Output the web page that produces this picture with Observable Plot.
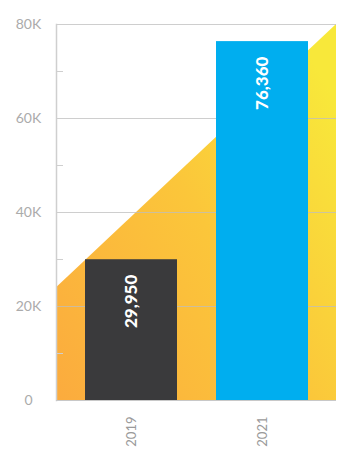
<!DOCTYPE html>
<html><head><meta charset="utf-8">
<script src="https://cdn.jsdelivr.net/npm/d3@7"></script>
<script src="https://cdn.jsdelivr.net/npm/@observablehq/plot@0.6"></script>
<style>body{margin:0;background:#fff;font-family:Lato,"Open Sans",sans-serif}</style>
</head><body><div id="chart"></div>
<script>
const years = ["2019", "2021"];
const values = [29950, 76360];
const barColors = ["#3a3a3c", "#00aeef"];
const yTicks = [0, 20000, 40000, 60000, 80000];
const yMinorTicks = [10000, 30000, 50000, 70000];
const wedgeValues = [24000, 80000]; // decorative rising wedge: left edge, right edge
const wedgeColors = ["#fbab3e", "#fbc63a", "#f8e83a"];

const data = years.map((year, i) => ({year, value: values[i]}));

function wedge(index, scales, channels, dimensions) {
  const {width, marginLeft, marginRight} = dimensions;
  const x0 = marginLeft, x1 = width - marginRight;
  const y = scales.y;
  const ns = "http://www.w3.org/2000/svg";
  const g = document.createElementNS(ns, "g");
  const pts = [[x0, y(0)], [x0, y(wedgeValues[0])], [x1, y(wedgeValues[1])], [x1, y(0)]];
  g.innerHTML = `<defs><linearGradient id="wedgeGrad" x1="0" y1="1" x2="1" y2="0.2">
    <stop offset="0" stop-color="${wedgeColors[0]}"/>
    <stop offset="0.55" stop-color="${wedgeColors[1]}"/>
    <stop offset="1" stop-color="${wedgeColors[2]}"/></linearGradient></defs>
    <polygon fill="url(#wedgeGrad)" points="${pts.map(p => p.join(",")).join(" ")}"/>`;
  return g;
}

const chart = Plot.plot({
  width: 357,
  height: 460,
  marginLeft: 56,
  marginRight: 21,
  marginTop: 24,
  marginBottom: 60,
  style: {fontFamily: "Lato, sans-serif", background: "transparent"},
  x: {domain: years, paddingInner: 0.3, paddingOuter: 0.215, label: null},
  y: {domain: [0, 80000], label: null},
  color: {domain: years, range: barColors},
  marks: [
    wedge,
    Plot.gridY(yTicks, {stroke: "#bdbdbd", strokeOpacity: 0.75}),
    Plot.frame({anchor: "left", stroke: "#cfcfcf", strokeWidth: 1.5}),
    Plot.axisY(yMinorTicks, {tickSize: -7, tickFormat: () => "", stroke: "#cfcfcf"}),
    Plot.axisY(yTicks, {tickSize: 0, tickPadding: 28, textAnchor: "middle",
      tickFormat: d => d === 0 ? "0" : d / 1000 + "K", fill: "#ababab", fontSize: 14}),
    Plot.barY(data, {x: "year", y: "value", fill: "year"}),
    Plot.ruleY([0], {stroke: "#c8c8c8"}),
    Plot.text(data, {x: "year", y: "value", text: d => d3.format(",")(d.value),
      rotate: -90, textAnchor: "end", dy: 15, fill: "white", fontWeight: 900, fontSize: 17}),
    Plot.axisX({tickRotate: -90, tickSize: 0, tickPadding: 16, fill: "#9a9a9a", fontSize: 13})
  ]
});
document.getElementById("chart").append(chart);
</script>
</body></html>
